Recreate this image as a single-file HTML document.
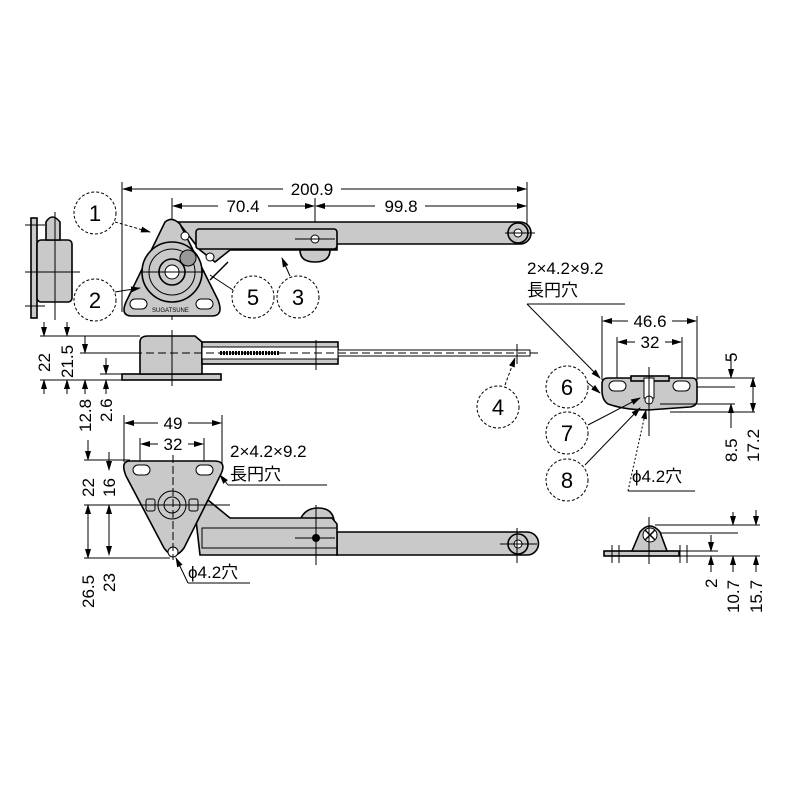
<!DOCTYPE html>
<html><head><meta charset="utf-8"><style>
html,body{margin:0;padding:0;background:#fff}
svg{display:block}
text{font-family:"Liberation Sans","Noto Sans CJK JP",sans-serif;fill:#000}
.g{fill:#c9c9c9;stroke:#000;stroke-width:1.6}
.l{stroke:#000;stroke-width:1;fill:none}
.c{fill:#fff;stroke:#000;stroke-width:1;stroke-dasharray:3 2}
.t{font-size:17px}
.n{font-size:22px}
</style></head><body>
<svg width="800" height="800" viewBox="0 0 800 800" xmlns="http://www.w3.org/2000/svg">
<defs><marker id="a" markerWidth="10" markerHeight="8" refX="9" refY="4" orient="auto-start-reverse" markerUnits="userSpaceOnUse"><path d="M0,1 L10,4 L0,7z" fill="#000"/></marker></defs>

<!-- top dims -->
<line class="l" x1="122" y1="182" x2="122" y2="312"/>
<line class="l" x1="527" y1="182" x2="527" y2="235"/>
<line class="l" x1="315" y1="198" x2="315" y2="258"/>
<line class="l" x1="172" y1="198" x2="172" y2="320"/>
<line class="l" x1="123" y1="189" x2="526" y2="189" marker-start="url(#a)" marker-end="url(#a)"/>
<rect x="283" y="178" width="58" height="20" fill="#fff"/>
<text class="t" x="312" y="195" text-anchor="middle">200.9</text>
<line class="l" x1="173" y1="206" x2="314" y2="206" marker-start="url(#a)" marker-end="url(#a)"/>
<line class="l" x1="316" y1="206" x2="526" y2="206" marker-start="url(#a)" marker-end="url(#a)"/>
<rect x="218" y="196" width="50" height="20" fill="#fff"/>
<text class="t" x="243" y="212" text-anchor="middle">70.4</text>
<rect x="375" y="196" width="50" height="20" fill="#fff"/>
<text class="t" x="401" y="212" text-anchor="middle">99.8</text>

<!-- top view -->
<path class="g" d="M178,222 L520,222 A11,11 0 0 1 520,244 L337,244 L337,250 L230,250 L215,262 L200,250 Z"/>
<path class="g" d="M300,250 L330,250 Q330,262 315,262 Q300,262 300,250Z"/>
<rect class="g" x="196" y="229" width="141" height="20" rx="3"/>
<circle cx="518" cy="233" r="10" class="g"/><circle cx="518" cy="233" r="4" fill="#fff" stroke="#000"/>
<circle cx="315" cy="239" r="4" fill="#fff" stroke="#000"/>
<line class="l" x1="295" y1="239" x2="335" y2="239"/><line class="l" x1="505" y1="233" x2="535" y2="233"/>
<path class="g" d="M165,222 Q172,216 180,224 L218,300 Q224,316 212,316 L132,316 Q120,316 126,302 Z"/>
<circle cx="172" cy="272" r="30" class="g"/><circle cx="172" cy="272" r="23" fill="none" stroke="#000"/>
<circle cx="172" cy="272" r="13" class="g"/><circle cx="172" cy="272" r="7" fill="#fff" stroke="#000"/>
<circle cx="188" cy="258" r="8" fill="#999" stroke="#000"/>
<circle cx="185" cy="236" r="4" fill="#fff" stroke="#000"/><circle cx="210" cy="257" r="4" fill="#fff" stroke="#000"/>
<rect x="130" y="299" width="17" height="10" rx="5" fill="#fff" stroke="#000"/>
<rect x="196" y="299" width="17" height="10" rx="5" fill="#fff" stroke="#000"/>
<text x="152" y="312" font-size="6">SUGATSUNE</text>
<line class="l" x1="140" y1="272" x2="205" y2="272"/>
<line x1="210" y1="280" x2="228" y2="262" stroke="#000" stroke-width="1.5"/>
<!-- left side view -->
<rect class="g" x="31" y="218" width="6" height="100"/>
<rect class="g" x="37" y="240" width="35" height="62" rx="4"/>
<path class="g" d="M46,240 L46,222 Q52,212 60,222 L60,240Z"/>
<line class="l" x1="25" y1="272" x2="80" y2="272"/><line class="l" x1="25" y1="225" x2="45" y2="225"/><line class="l" x1="25" y1="306" x2="45" y2="306"/>
<line class="l" x1="55" y1="212" x2="55" y2="320"/>

<!-- side view -->
<rect class="g" x="122" y="374" width="99" height="6"/>
<path class="g" d="M140,374 L140,342 Q140,336 148,336 L195,336 L202,342 L202,374Z"/>
<rect class="g" x="202" y="342" width="136" height="22"/>
<rect x="202" y="347" width="136" height="12" fill="#fff" stroke="#000"/>
<rect x="338" y="350" width="192" height="6" fill="#fff" stroke="#000"/>
<line x1="220" y1="353" x2="280" y2="353" stroke="#000" stroke-width="4" stroke-dasharray="2 1"/>
<line class="l" x1="122" y1="353" x2="540" y2="353" stroke-dasharray="8 4"/>
<line class="l" x1="172" y1="330" x2="172" y2="386"/><line class="l" x1="316" y1="340" x2="316" y2="370"/><line class="l" x1="517" y1="344" x2="517" y2="364"/>
<!-- left dims -->
<line class="l" x1="40" y1="336" x2="140" y2="336"/><line class="l" x1="40" y1="380" x2="122" y2="380"/>
<line class="l" x1="80" y1="353" x2="140" y2="353"/><line class="l" x1="100" y1="374" x2="122" y2="374"/>
<line class="l" x1="44" y1="322" x2="44" y2="336" marker-end="url(#a)"/><line class="l" x1="44" y1="394" x2="44" y2="380" marker-end="url(#a)"/>
<line class="l" x1="67" y1="322" x2="67" y2="336" marker-end="url(#a)"/><line class="l" x1="67" y1="394" x2="67" y2="380" marker-end="url(#a)"/>
<line class="l" x1="85" y1="336" x2="85" y2="353" marker-end="url(#a)"/><line class="l" x1="85" y1="394" x2="85" y2="380" marker-end="url(#a)"/>
<line class="l" x1="106" y1="358" x2="106" y2="374" marker-end="url(#a)"/><line class="l" x1="106" y1="394" x2="106" y2="380" marker-end="url(#a)"/>
<text class="t" transform="translate(50,372) rotate(-90)">22</text>
<text class="t" transform="translate(73,378) rotate(-90)">21.5</text>
<text class="t" transform="translate(91,432) rotate(-90)">12.8</text>
<text class="t" transform="translate(112,422) rotate(-90)">2.6</text>

<!-- bottom view -->
<line class="l" x1="124" y1="415" x2="124" y2="462"/><line class="l" x1="222" y1="415" x2="222" y2="470"/>
<line class="l" x1="140" y1="438" x2="140" y2="470"/><line class="l" x1="204" y1="438" x2="204" y2="470"/>
<line class="l" x1="125" y1="423" x2="221" y2="423" marker-start="url(#a)" marker-end="url(#a)"/>
<rect x="158" y="413" width="30" height="20" fill="#fff"/><text class="t" x="173" y="429" text-anchor="middle">49</text>
<line class="l" x1="141" y1="444" x2="203" y2="444" marker-start="url(#a)" marker-end="url(#a)"/>
<rect x="158" y="434" width="30" height="20" fill="#fff"/><text class="t" x="173" y="450" text-anchor="middle">32</text>
<path class="g" d="M300,520 Q305,508 318,508 Q332,508 334,520Z"/>
<path class="g" d="M527,532 A11.5,11.5 0 0 1 527,555 L337,555 L337,532Z"/>
<path class="g" d="M208,500 L230,518 L332,518 L337,524 L337,555 L200,555 L196,520 Z"/>
<rect x="202" y="528" width="135" height="20" fill="none" stroke="#000"/>
<circle cx="316" cy="538" r="4" fill="#000"/>
<circle cx="518" cy="544" r="10" class="g"/><circle cx="518" cy="544" r="4" fill="#fff" stroke="#000"/>
<line class="l" x1="295" y1="538" x2="335" y2="538"/><line class="l" x1="316" y1="505" x2="316" y2="565"/>
<line class="l" x1="500" y1="544" x2="537" y2="544"/><line class="l" x1="517" y1="528" x2="517" y2="563"/>
<path class="g" d="M130,461 L214,461 Q228,461 220,476 L184,548 Q174,562 164,548 L126,476 Q120,461 130,461Z"/>
<circle cx="172" cy="505" r="14" fill="none" stroke="#000"/><circle cx="172" cy="505" r="8" fill="none" stroke="#000"/>
<rect x="146" y="499" width="9" height="12" rx="2" fill="none" stroke="#000"/><rect x="189" y="499" width="9" height="12" rx="2" fill="none" stroke="#000"/>
<rect x="133" y="465" width="17" height="10" rx="5" fill="#fff" stroke="#000"/><rect x="196" y="465" width="17" height="10" rx="5" fill="#fff" stroke="#000"/>
<circle cx="173" cy="552" r="5" fill="#fff" stroke="#000"/>
<line class="l" x1="173" y1="455" x2="173" y2="560" stroke-dasharray="8 3"/>
<line class="l" x1="84" y1="460" x2="130" y2="460"/><line class="l" x1="84" y1="505" x2="230" y2="505"/><line class="l" x1="84" y1="558" x2="170" y2="558"/>
<line class="l" x1="88" y1="440" x2="88" y2="460" marker-end="url(#a)"/><line class="l" x1="88" y1="505" x2="88" y2="558" marker-start="url(#a)" marker-end="url(#a)"/>
<line class="l" x1="109" y1="452" x2="109" y2="470" marker-end="url(#a)"/><line class="l" x1="109" y1="505" x2="109" y2="555" marker-start="url(#a)" marker-end="url(#a)"/>
<text class="t" transform="translate(94,497) rotate(-90)">22</text>
<text class="t" transform="translate(115,497) rotate(-90)">16</text>
<text class="t" transform="translate(94,608) rotate(-90)">26.5</text>
<text class="t" transform="translate(115,592) rotate(-90)">23</text>
<text class="t" x="230" y="457">2×4.2×9.2</text>
<text class="t" x="230" y="480">長円穴</text>
<line class="l" x1="228" y1="485" x2="327" y2="485"/><line class="l" x1="228" y1="485" x2="220" y2="475" marker-end="url(#a)"/>
<text class="t" x="188" y="578">ϕ4.2穴</text>
<line class="l" x1="188" y1="583" x2="250" y2="583"/><line class="l" x1="188" y1="583" x2="176" y2="558" marker-end="url(#a)"/>

<!-- right bracket -->
<text class="t" x="527" y="274">2×4.2×9.2</text>
<text class="t" x="527" y="296">長円穴</text>
<line class="l" x1="527" y1="304" x2="625" y2="304"/><line class="l" x1="527" y1="304" x2="600" y2="378" marker-end="url(#a)"/>
<line class="l" x1="602" y1="316" x2="602" y2="380"/><line class="l" x1="697" y1="316" x2="697" y2="380"/>
<line class="l" x1="617" y1="337" x2="617" y2="400"/><line class="l" x1="682" y1="337" x2="682" y2="400"/>
<line class="l" x1="603" y1="321" x2="696" y2="321" marker-start="url(#a)" marker-end="url(#a)"/>
<rect x="628" y="311" width="44" height="20" fill="#fff"/><text class="t" x="650" y="327" text-anchor="middle">46.6</text>
<line class="l" x1="618" y1="342" x2="681" y2="342" marker-start="url(#a)" marker-end="url(#a)"/>
<rect x="635" y="332" width="30" height="20" fill="#fff"/><text class="t" x="650" y="348" text-anchor="middle">32</text>
<path class="g" d="M608,378 L692,378 Q697,378 697,384 L697,400 Q697,406 690,407 L648,410 Q625,410 608,404 Q602,400 602,390 L602,384 Q602,378 608,378Z"/>
<rect class="g" x="631" y="376" width="38" height="5"/>
<rect x="609" y="381" width="17" height="10" rx="5" fill="#fff" stroke="#000"/><rect x="673" y="381" width="17" height="10" rx="5" fill="#fff" stroke="#000"/>
<rect x="644" y="378" width="10" height="20" fill="#fff" stroke="#000"/><circle cx="649" cy="400" r="4" fill="#fff" stroke="#000"/>
<line class="l" x1="649" y1="367" x2="649" y2="436"/>
<line class="l" x1="697" y1="378" x2="755" y2="378"/><line class="l" x1="697" y1="387" x2="735" y2="387"/>
<line class="l" x1="660" y1="404" x2="735" y2="404"/><line class="l" x1="670" y1="412" x2="755" y2="412"/>
<line class="l" x1="731" y1="355" x2="731" y2="378" marker-end="url(#a)"/><line class="l" x1="731" y1="428" x2="731" y2="404" marker-end="url(#a)"/>
<line class="l" x1="753" y1="378" x2="753" y2="395" marker-start="url(#a)"/><line class="l" x1="753" y1="395" x2="753" y2="412" marker-end="url(#a)"/>
<text class="t" transform="translate(737,362) rotate(-90)">5</text>
<text class="t" transform="translate(737,462) rotate(-90)">8.5</text>
<text class="t" transform="translate(759,462) rotate(-90)">17.2</text>
<text class="t" x="632" y="482">ϕ4.2穴</text>
<line class="l" x1="628" y1="491" x2="695" y2="491"/><line class="l" x1="628" y1="491" x2="646" y2="410" stroke-dasharray="2 2" marker-end="url(#a)"/>

<!-- small bracket side -->
<rect class="g" x="604" y="551" width="75" height="5"/>
<path class="g" d="M632,551 L640,532 Q650,520 660,532 L667,551Z"/>
<circle cx="650" cy="535" r="7" fill="#fff" stroke="#000"/>
<path d="M645,530 L655,540 M655,530 L645,540" stroke="#000" stroke-width="1.5"/>
<line class="l" x1="649" y1="517" x2="649" y2="564"/>
<line class="l" x1="612" y1="545" x2="612" y2="563"/><line class="l" x1="619" y1="545" x2="619" y2="563"/>
<line class="l" x1="680" y1="545" x2="680" y2="563"/><line class="l" x1="687" y1="545" x2="687" y2="563"/>
<line class="l" x1="655" y1="525" x2="760" y2="525"/><line class="l" x1="660" y1="533" x2="738" y2="533"/>
<line class="l" x1="679" y1="551" x2="718" y2="551"/><line class="l" x1="679" y1="556" x2="760" y2="556"/>
<line class="l" x1="711" y1="535" x2="711" y2="551" marker-end="url(#a)"/><line class="l" x1="711" y1="572" x2="711" y2="556" marker-end="url(#a)"/>
<line class="l" x1="733" y1="512" x2="733" y2="525" marker-end="url(#a)"/><line class="l" x1="733" y1="572" x2="733" y2="556" marker-end="url(#a)"/>
<line class="l" x1="756" y1="510" x2="756" y2="525" marker-end="url(#a)"/><line class="l" x1="756" y1="572" x2="756" y2="556" marker-end="url(#a)"/>
<text class="t" transform="translate(717,588) rotate(-90)">2</text>
<text class="t" transform="translate(739,613) rotate(-90)">10.7</text>
<text class="t" transform="translate(762,613) rotate(-90)">15.7</text>

<!-- balloons -->
<line class="l" x1="115" y1="222" x2="150" y2="232" stroke-dasharray="3 2" marker-end="url(#a)"/>
<line class="l" x1="115" y1="292" x2="140" y2="288" marker-end="url(#a)"/>
<line class="l" x1="233" y1="290" x2="210" y2="275"/>
<line class="l" x1="290" y1="276" x2="282" y2="258" marker-end="url(#a)"/>
<line class="l" x1="505" y1="385" x2="515" y2="358" stroke-dasharray="3 2" marker-end="url(#a)"/>
<line class="l" x1="588" y1="383" x2="600" y2="393" marker-end="url(#a)"/>
<line class="l" x1="588" y1="425" x2="640" y2="398" marker-end="url(#a)"/>
<line class="l" x1="585" y1="465" x2="640" y2="408" marker-end="url(#a)"/>
<circle class="c" cx="95" cy="213" r="21"/><text class="n" x="95" y="221" text-anchor="middle">1</text>
<circle class="c" cx="95" cy="300" r="21"/><text class="n" x="95" y="308" text-anchor="middle">2</text>
<circle class="c" cx="253" cy="297" r="21"/><text class="n" x="253" y="305" text-anchor="middle">5</text>
<circle class="c" cx="298" cy="297" r="21"/><text class="n" x="298" y="305" text-anchor="middle">3</text>
<circle class="c" cx="498" cy="407" r="21"/><text class="n" x="498" y="415" text-anchor="middle">4</text>
<circle class="c" cx="567" cy="387" r="21"/><text class="n" x="567" y="395" text-anchor="middle">6</text>
<circle class="c" cx="567" cy="433" r="21"/><text class="n" x="567" y="441" text-anchor="middle">7</text>
<circle class="c" cx="567" cy="480" r="21"/><text class="n" x="567" y="488" text-anchor="middle">8</text>
</svg>
</body></html>
